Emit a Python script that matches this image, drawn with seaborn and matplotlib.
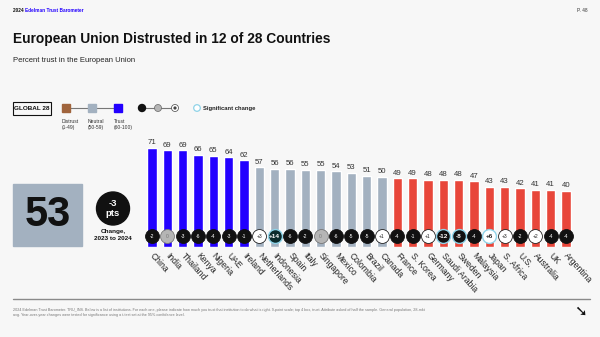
import matplotlib
matplotlib.use("Agg")
import matplotlib.pyplot as plt
import matplotlib.transforms as mtransforms
import seaborn as sns
import pandas as pd
from matplotlib.patches import Rectangle, Circle

countries = ["China", "India", "Thailand", "Kenya", "Nigeria", "UAE", "Ireland",
             "Netherlands", "Indonesia", "Spain", "Italy", "Singapore", "Mexico",
             "Colombia", "Brazil", "Canada", "France", "S. Korea", "Germany",
             "Saudi Arabia", "Sweden", "Malaysia", "Japan", "S. Africa", "U.S.",
             "Australia", "UK", "Argentina"]
trust = [71, 69, 69, 66, 65, 64, 62, 57, 56, 56, 55, 55, 54, 53, 51, 50,
         49, 49, 48, 48, 48, 47, 43, 43, 42, 41, 41, 40]
change = [-2, 0, -3, -6, -4, -3, -1, 3, 14, -6, -2, 0, -6, -5, -5, 1,
          -4, -1, 1, -12, -8, -4, 6, 3, -2, 2, -4, -4]
significant = ["Indonesia", "Saudi Arabia", "Sweden", "Japan"]
global_value = 53
global_change = -3

C_TRUST = "#2200ff"
C_NEUTRAL = "#a3b1c0"
C_DISTRUST = "#e8463a"
C_DISTRUST_LEG = "#a0643c"
BG = "#f7f7f7"


def level(v):
    if v >= 60:
        return "Trust"
    if v >= 50:
        return "Neutral"
    return "Distrust"


df = pd.DataFrame({"country": countries, "trust": trust,
                   "level": [level(v) for v in trust]})

sns.set_theme(style="white")
plt.rcParams["font.family"] = ["Liberation Sans", "DejaVu Sans"]

W, H = 600, 337
fig = plt.figure(figsize=(W / 100, H / 100), dpi=100, facecolor=BG)
renderer = fig.canvas.get_renderer()

# overlay axes in pixel coords
ov = fig.add_axes([0, 0, 1, 1], zorder=0)
ov.set_xlim(0, W)
ov.set_ylim(H, 0)
ov.axis("off")
ov.patch.set_alpha(0)

# header
t0 = ov.text(13, 10, "2024 ", fontsize=3.4, fontweight="bold", color="#111",
             va="center")
bb = t0.get_window_extent(renderer)
ov.text(13 + bb.width, 10, "Edelman Trust Barometer", fontsize=3.4,
        fontweight="bold", color="#2200ff", va="center")
ov.text(588, 10, "P. 48", fontsize=3.4, color="#333", va="center", ha="right")

# title
ov.text(13, 38.5, "European Union Distrusted in 12 of 28 Countries",
        fontsize=9.9, fontweight="bold", color="#111", va="center")
ov.text(13, 61, "Percent trust in the European Union", fontsize=5.5,
        color="#222", va="center")

# legend
ov.add_patch(Rectangle((13, 102), 38, 13, fill=False, ec="#111", lw=0.8))
ov.text(32, 108.5, "GLOBAL 28", fontsize=4.6, fontweight="bold", ha="center",
        va="center", color="#111")
ov.plot([66, 118], [108, 108], color="#777", lw=0.8, zorder=1)
for x, c, lab in [(66, C_DISTRUST_LEG, "Distrust\n(1-49)"),
                  (92, C_NEUTRAL, "Neutral\n(50-59)"),
                  (118, C_TRUST, "Trust\n(60-100)")]:
    ov.add_patch(Rectangle((x - 4, 104), 8, 8, color=c, zorder=2))
    ov.text(x - 4, 119, lab, fontsize=3.6, color="#333", va="top",
            linespacing=1.3)
ov.plot([142, 175], [108, 108], color="#777", lw=0.8, zorder=1)
ov.add_patch(Circle((142, 108), 3.5, color="#111", zorder=2))
ov.add_patch(Circle((158, 108), 3.5, fc="#b5b5b5", ec="#666", lw=0.5, zorder=2))
ov.add_patch(Circle((175, 108), 3.5, fc="white", ec="#444", lw=0.5, zorder=2))
ov.add_patch(Circle((175, 108), 0.9, color="#444", zorder=3))
ov.add_patch(Circle((197, 108), 3.3, fc="white", ec="#8fd3e8", lw=0.9, zorder=2))
ov.text(203, 108.5, "Significant change", fontsize=4.2, fontweight="bold",
        color="#222", va="center")

# global box
ov.add_patch(Rectangle((13, 184), 69, 62, color=C_NEUTRAL))
ov.text(47.5, 215, str(global_value), fontsize=30, fontweight="bold",
        color="#111", ha="center", va="center")
ov.add_patch(Circle((113, 208.5), 16.5, color="#111"))
ov.text(113, 208.5, f"{global_change}\npts", fontsize=6.8, fontweight="bold",
        color="white", ha="center", va="center", linespacing=1.2)
ov.text(113, 235, "Change,\n2023 to 2024", fontsize=4.6, fontweight="bold",
        color="#111", ha="center", va="center", linespacing=1.25)

# footer
ov.plot([13, 590], [299, 299], color="#8a8a8a", lw=1.0)
ov.text(13, 308,
        "2024 Edelman Trust Barometer. TRU_INS. Below is a list of institutions. "
        "For each one, please indicate how much you trust that institution to do "
        "what is right. 9-point scale; top 4 box, trust. Attribute asked of half "
        "the sample. General population, 28-mkt\navg. Year-over-year changes were "
        "tested for significance using a t-test set at the 95% confidence level.",
        fontsize=2.7, color="#777", va="top", linespacing=1.4)
ov.text(580, 311, "\u2798", fontsize=11, color="#111", ha="center",
        va="center", family="DejaVu Sans")

# bar axes
px_per_unit = 1.40
ymax = 75
bottom_px = 247
left_px = 152 - 15.33 / 2
width_px = 15.33 * 28
ax = fig.add_axes([left_px / W, (H - bottom_px) / H, width_px / W,
                   ymax * px_per_unit / H], zorder=2)
ax.patch.set_alpha(0)
sns.barplot(data=df, x="country", y="trust", hue="level",
            palette={"Trust": C_TRUST, "Neutral": C_NEUTRAL,
                     "Distrust": C_DISTRUST},
            dodge=False, width=0.6, legend=False, ax=ax, saturation=1)
ax.set_xlim(-0.5, 27.5)
ax.set_ylim(0, ymax)
for s in ax.spines.values():
    s.set_visible(False)
ax.set_yticks([])
ax.set_xlabel("")
ax.set_ylabel("")

for i, v in enumerate(trust):
    ax.text(i, v + 1.2, str(v), ha="center", va="bottom", fontsize=5.6,
            color="#333")

circle_y = (bottom_px - 236) / px_per_unit
for i, (c, d) in enumerate(zip(countries, change)):
    sig = c in significant
    if d == 0:
        fc, ec, tc, lab = "#b5b5b5", "#777", "#777", "0"
    elif d > 0:
        fc, ec, tc, lab = "white", "#222", "#222", f"+{d}"
    else:
        fc, ec, tc, lab = "#111", "#111", "white", f"{d}"
    if sig:
        ec = "#8fd3e8"
        if d > 10:
            fc, tc = "#0b2b2b", "white"
    ax.scatter([i], [circle_y], s=100, c=fc, edgecolors=ec,
               linewidths=1.0 if sig else 0.6, zorder=5, clip_on=False)
    ax.text(i, circle_y, lab, ha="center", va="center",
            fontsize=4.6 if sig else 3.6,
            fontweight="bold" if sig else "normal", color=tc, zorder=6)

ax.set_xticks(range(len(countries)))
ax.set_xticklabels(countries, rotation=-48, ha="left", va="top",
                   rotation_mode="anchor", fontsize=6.2, color="#222")
ax.tick_params(axis="x", length=0, pad=3)
shift = mtransforms.ScaledTranslation(3 / 100, 0, fig.dpi_scale_trans)
for lbl in ax.get_xticklabels():
    lbl.set_transform(lbl.get_transform() + shift)

fig.savefig("out.png", dpi=100, facecolor=BG)
